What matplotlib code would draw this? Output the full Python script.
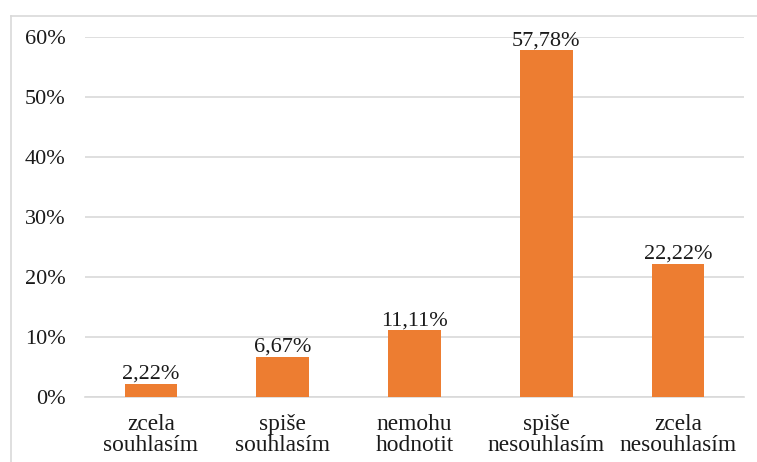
import matplotlib.pyplot as plt
from matplotlib.ticker import FuncFormatter
from matplotlib.lines import Line2D

categories = ["zcela\nsouhlasím", "spi\u0161e\nsouhlasím", "nemohu\nhodnotit",
              "spi\u0161e\nnesouhlasím", "zcela\nnesouhlasím"]
values = [2.22, 6.67, 11.11, 57.78, 22.22]
yticks = [0, 10, 20, 30, 40, 50, 60]

plt.rcParams['font.family'] = ['Liberation Serif', 'DejaVu Serif']

fig = plt.figure(figsize=(7.57, 4.62), dpi=100)
ax = fig.add_axes([85 / 757, 1 - 397 / 462, (744 - 85) / 757, 360 / 462])

x = range(len(values))
bars = ax.bar(x, values, width=0.4, color="#ED7D31", zorder=3)
for b, v in zip(bars, values):
    ax.annotate(f"{v:.2f}%".replace(".", ","), (b.get_x() + b.get_width() / 2, v),
                xytext=(0, 0), textcoords="offset points",
                ha="center", va="bottom", fontsize=16, color="#1a1a1a", zorder=4)

ax.set_xlim(-0.5, len(values) - 0.5)
ax.set_ylim(0, 60)
ax.set_yticks(yticks)
ax.yaxis.set_major_formatter(FuncFormatter(lambda v, p: f"{v:.0f}%"))
ax.set_xticks(list(x))
ax.set_xticklabels(categories, fontsize=16.8, color="#1a1a1a", linespacing=1.02)
ax.tick_params(axis="y", length=0, pad=14, labelsize=16, labelcolor="#1a1a1a")
ax.tick_params(axis="x", length=0, pad=12)
ax.grid(axis="y", color="#D9D9D9", linewidth=1.2, zorder=0)
for s in ["top", "right", "left"]:
    ax.spines[s].set_visible(False)
ax.spines["bottom"].set_color("#D9D9D9")
ax.spines["bottom"].set_linewidth(1.2)

# chart frame (left and top edges visible)
fig.add_artist(Line2D([11 / 757, 11 / 757], [0, 1 - 16 / 462], color="#D9D9D9",
                      linewidth=1.2, transform=fig.transFigure))
fig.add_artist(Line2D([11 / 757, 1], [1 - 16 / 462, 1 - 16 / 462], color="#D9D9D9",
                      linewidth=1.2, transform=fig.transFigure))

fig.savefig("out.png", dpi=100)
